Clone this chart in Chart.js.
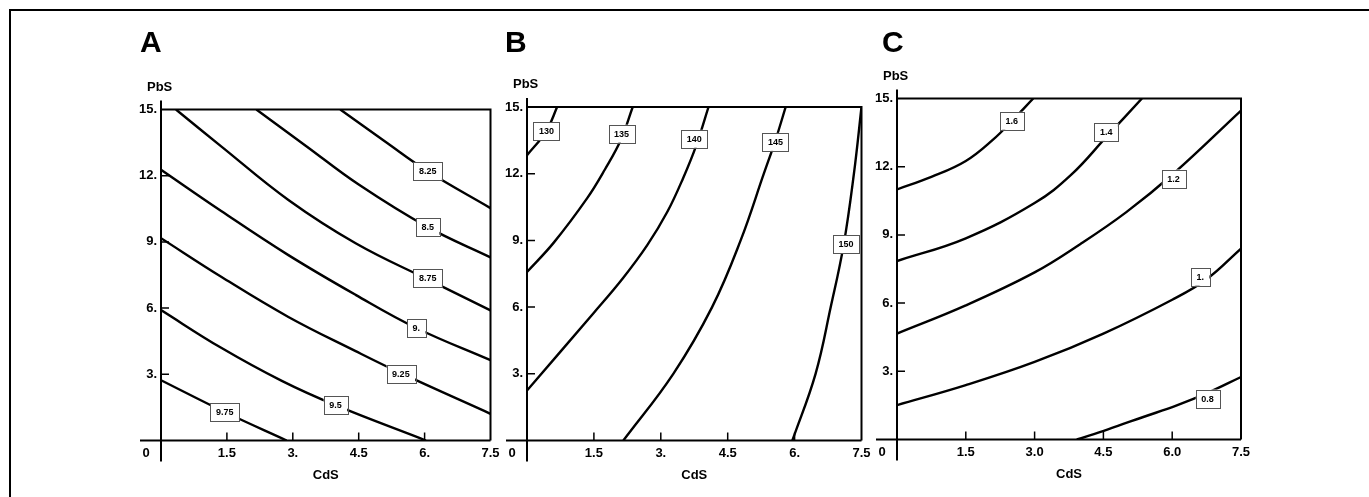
<!DOCTYPE html>
<html>
<head>
<meta charset="utf-8">
<script src="https://cdn.jsdelivr.net/npm/chart.js@4.4.1/dist/chart.umd.min.js"></script>
<style>
  html, body { margin: 0; padding: 0; background: #fff; width: 1369px; height: 497px; overflow: hidden; }
  #frame { position: absolute; left: 9px; top: 9px; width: 1400px; height: 520px; border-top: 2px solid #000; border-left: 2px solid #000; }
  canvas { position: absolute; top: 0; }
</style>
</head>
<body>
<div id="frame"></div>
<canvas id="cA" width="415" height="497" style="left:95px"></canvas>
<canvas id="cB" width="410" height="497" style="left:475px"></canvas>
<canvas id="cC" width="420" height="497" style="left:845px"></canvas>
<script>
// ---------- tick values and labels ----------
const xTicks = [0, 1.5, 3, 4.5, 6, 7.5];
const xTickLabelsAB = ['0', '1.5', '3.', '4.5', '6.', '7.5'];
const xTickLabelsC = ['0', '1.5', '3.0', '4.5', '6.0', '7.5'];
const yTicks = [3, 6, 9, 12, 15];
const yTickLabels = ['3.', '6.', '9.', '12.', '15.'];

// ---------- Panel A contours (CdS, PbS) ----------
const a825 = [[4.08,15],[5.1,13.55],[6.07,12.2],[7.5,10.53]];
const a850 = [[2.17,15],[3.3,13.35],[4.5,11.6],[6.07,9.67],[7.5,8.3]];
const a875 = [[0.34,15],[1.37,13.33],[2.9,10.9],[4.43,8.94],[6.07,7.3],[7.5,5.9]];
const a900 = [[0,12.27],[1.37,10.4],[2.9,8.4],[4.43,6.6],[5.81,5.1],[7.5,3.64]];
const a925 = [[0,9.17],[1.37,7.42],[2.9,5.6],[4.43,4.05],[5.46,3.05],[7.5,1.21]];
const a950 = [[0,5.91],[1.37,4.2],[2.75,2.7],[3.97,1.6],[6.03,0]];
const a975 = [[0,2.73],[1.45,1.29],[2.86,0]];
const levelsA = ['8.25','8.5','8.75','9.','9.25','9.5','9.75'];
const labelPosA = [[6.07,12.2],[6.07,9.67],[6.07,7.35],[5.81,5.08],[5.46,3.03],[3.97,1.59],[1.45,1.29]];

// ---------- Panel B contours ----------
const b130 = [[0,12.83],[0.435,13.92],[0.675,15]];
const b135 = [[0,7.58],[0.6,8.9],[1.35,10.9],[1.75,12.2],[2.1,13.5],[2.37,15]];
const b140 = [[0,2.25],[1.5,5.75],[2.15,7.3],[2.7,8.8],[3.15,10.3],[3.5,11.8],[3.8,13.3],[4.07,15]];
const b145 = [[2.16,0],[3.28,3],[4.15,6],[4.79,9],[5.31,12],[5.57,13.5],[5.8,15]];
const b150 = [[5.95,0],[6.47,3],[6.81,6],[7.1,8.8],[7.33,12],[7.5,15]];
const levelsB = ['130','135','140','145','150'];
const labelPosB = [[0.435,13.92],[2.12,13.8],[3.75,13.57],[5.57,13.43],[7.15,8.82]];

// ---------- Panel C contours ----------
const c16 = [[0,11.0],[0.75,11.55],[1.5,12.25],[2.1,13.2],[2.5,14.0],[2.97,15]];
const c14 = [[0,7.85],[1.5,8.85],[3.0,10.4],[3.8,11.65],[4.56,13.3],[5.34,15]];
const c12 = [[0,4.66],[1.5,5.9],[3.0,7.35],[4.0,8.6],[5.0,10.0],[6.03,11.7],[7.5,14.47]];
const c10 = [[0,1.51],[1.5,2.39],[3.0,3.41],[4.5,4.66],[6.0,6.15],[6.75,7.05],[7.5,8.4]];
const c08 = [[3.92,0],[4.6,0.45],[5.37,0.99],[6.1,1.5],[6.77,2.05],[7.5,2.75]];
const levelsC = ['1.6','1.4','1.2','1.','0.8'];
const labelPosC = [[2.5,14.02],[4.56,13.53],[6.03,11.48],[6.61,7.16],[6.77,1.8]];

const FONT = "'Liberation Sans', Arial, Helvetica, sans-serif";

const panelPlugin = {
  id: 'panel',
  afterDatasetsDraw(chart, args, o) {
    const { ctx, chartArea: ca, scales: { x, y } } = chart;
    ctx.save();
    // contour labels
    ctx.font = 'bold 9px ' + FONT;
    ctx.textAlign = 'center';
    ctx.textBaseline = 'middle';
    o.labels.forEach((t, i) => {
      const px = x.getPixelForValue(o.labelPos[i][0]);
      const py = y.getPixelForValue(o.labelPos[i][1]);
      const w = ctx.measureText(t).width + 11, h = 18;
      ctx.fillStyle = '#fff';
      ctx.fillRect(px - w / 2, py - h / 2, w, h);
      ctx.strokeStyle = '#555';
      ctx.lineWidth = 1;
      ctx.strokeRect(Math.round(px - w / 2) + 0.5, Math.round(py - h / 2) + 0.5, Math.round(w), h);
      ctx.fillStyle = '#000';
      ctx.fillText(t, px, py + 0.5);
    });
    // box + axes
    ctx.strokeStyle = '#000';
    ctx.lineWidth = 2;
    ctx.beginPath();
    ctx.moveTo(ca.left, ca.top); ctx.lineTo(ca.right, ca.top); ctx.lineTo(ca.right, ca.bottom);
    ctx.moveTo(ca.left - 21, ca.bottom); ctx.lineTo(ca.right, ca.bottom);
    ctx.moveTo(ca.left, ca.top - 9); ctx.lineTo(ca.left, ca.bottom + 21);
    ctx.stroke();
    // inner tick marks
    ctx.lineWidth = 1.5;
    ctx.beginPath();
    yTicks.forEach(v => {
      if (v >= 15) return;
      const py = y.getPixelForValue(v);
      ctx.moveTo(ca.left, py); ctx.lineTo(ca.left + 8, py);
    });
    xTicks.forEach(v => {
      if (v <= 0 || v >= 7.5) return;
      const px = x.getPixelForValue(v);
      ctx.moveTo(px, ca.bottom); ctx.lineTo(px, ca.bottom - 8);
    });
    ctx.stroke();
    // origin label, axis name, panel letter
    ctx.fillStyle = '#000';
    ctx.font = 'bold 13px ' + FONT;
    ctx.textAlign = 'center';
    ctx.textBaseline = 'middle';
    ctx.fillText(o.xLabels[0], x.getPixelForValue(0) - 15, ca.bottom + 13);
    ctx.textAlign = 'left';
    ctx.textBaseline = 'alphabetic';
    ctx.fillText('PbS', ca.left - 14, ca.top - 19);
    ctx.font = 'bold 30px ' + FONT;
    ctx.fillText(o.letter, ca.left + o.letterDx, 52);
    ctx.restore();
  }
};

function makePanel(id, curves, levels, labelPos, xLabels, letter, letterDx, pad) {
  const datasets = curves.map((c, i) => ({
    label: levels[i],
    data: c.map(p => ({ x: p[0], y: p[1] })),
    showLine: true,
    pointRadius: 0,
    borderColor: '#000',
    borderWidth: 2.4,
    fill: false,
    tension: 0.4
  }));
  return new Chart(document.getElementById(id), {
    type: 'scatter',
    data: { datasets },
    options: {
      responsive: false,
      devicePixelRatio: 1,
      animation: false,
      layout: { padding: pad },
      plugins: {
        legend: { display: false },
        tooltip: { enabled: false },
        panel: { labels: levels, labelPos: labelPos, xLabels: xLabels, letter: letter, letterDx: letterDx }
      },
      scales: {
        x: {
          type: 'linear', min: 0, max: 7.5,
          afterBuildTicks: s => { s.ticks = xTicks.map(v => ({ value: v })); },
          ticks: {
            callback: (v, i) => (i === 0 ? '' : xLabels[i]),
            color: '#000', font: { family: FONT, size: 13, weight: 'bold' },
            padding: 5, maxRotation: 0, autoSkip: false
          },
          grid: { display: false, drawTicks: false },
          border: { display: false },
          title: { display: true, text: 'CdS', color: '#000', font: { family: FONT, size: 13, weight: 'bold' }, padding: { top: 0, bottom: 0 } },
          afterFit: s => { s.height = 43; }
        },
        y: {
          type: 'linear', min: 0, max: 15,
          afterBuildTicks: s => { s.ticks = yTicks.map(v => ({ value: v })); },
          ticks: {
            callback: (v, i) => yTickLabels[i],
            color: '#000', font: { family: FONT, size: 13, weight: 'bold' },
            padding: 4
          },
          grid: { display: false, drawTicks: false },
          border: { display: false },
          afterFit: s => { s.width = 40; }
        }
      }
    },
    plugins: [panelPlugin]
  });
}

makePanel('cA', [a825, a850, a875, a900, a925, a950, a975], levelsA, labelPosA, xTickLabelsAB, 'A', -21,
  { left: 26, right: 19.5, top: 109.5, bottom: 13.5 });
makePanel('cB', [b130, b135, b140, b145, b150], levelsB, labelPosB, xTickLabelsAB, 'B', -22,
  { left: 12, right: 23.5, top: 107, bottom: 13.5 });
makePanel('cC', [c16, c14, c12, c10, c08], levelsC, labelPosC, xTickLabelsC, 'C', -15,
  { left: 12, right: 24, top: 98.5, bottom: 14.5 });
</script>
</body>
</html>
